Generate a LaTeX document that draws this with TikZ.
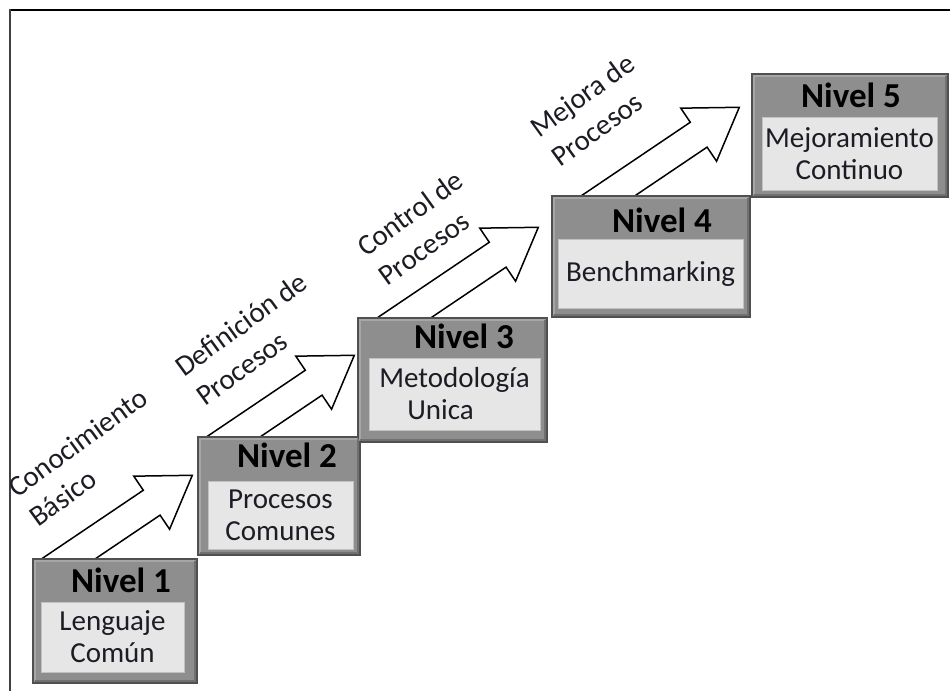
\documentclass[tikz,border=0pt]{standalone}
\usepackage{fontspec}
\setmainfont{Carlito}
\usetikzlibrary{backgrounds}

\definecolor{boxgray}{HTML}{8E8E8E}
\definecolor{boxedge}{HTML}{505050}
\definecolor{bevlight}{HTML}{A6A6A6}
\definecolor{bevdark}{HTML}{707070}
\definecolor{panelfill}{HTML}{E6E6E6}
\definecolor{paneledge}{HTML}{C2C2C2}
\definecolor{txt}{HTML}{1C1C24}

\tikzset{
  levelbox/.style={draw=boxedge, fill=boxgray, line width=1.4pt, inner sep=0pt},
  bevel/.style={line width=2pt},
  panel/.style={fill=panelfill, draw=paneledge, line width=0.8pt, inner sep=0pt,
    align=center, text=txt, font=\fontsize{29}{32}\selectfont},
  head/.style={inner sep=0pt, anchor=base, text=black,
    font=\fontsize{35}{40}\selectfont\bfseries},
  stair/.style={draw=black, fill=white, line width=1.5pt, line join=miter},
  steplabel/.style={inner sep=0pt, rotate=36, anchor=base west, align=left,
    text=txt, font=\fontsize{29}{36}\selectfont},
}

% block arrow with its tip at the local origin, pointing along +x
\newcommand\blockarrow{%
  \draw[stair] (0,0) -- (-49,32) -- (-49,15) -- (-230,15) -- (-230,-15)
    -- (-49,-15) -- (-49,-32) -- cycle;}

% one level box with a bevelled rim
\newcommand\levelrim[1]{%
  \draw[bevel, bevlight] ([shift={(3,3)}]#1.south west) |- ([shift={(-3,-3)}]#1.north east);
  \draw[bevel, bevdark] ([shift={(3,3)}]#1.south west) -| ([shift={(-3,-3)}]#1.north east);}

% arrow rising from the top of box #1 to the side of box #2
\newcommand\rise[3]{%
  \begin{scope}
    \clip ([xshift=-60pt]#1.north west) rectangle ([yshift=60pt]#2.north east);
    \begin{scope}[shift={(#2.north west)}, shift={(#3)}, rotate=34]
      \blockarrow
    \end{scope}
  \end{scope}}

\begin{document}
\begin{tikzpicture}[x=1pt,y=1pt]
\useasboundingbox (0,0) rectangle (950,691);

% frame
\draw[line width=1.8pt, black] (10,681) -- (950,681);
\draw[line width=2.4pt, black!75] (10,682) -- (10,0);

% level boxes
\node[levelbox, minimum width=164pt, minimum height=124pt] (b1) at (115,70) {};
\node[levelbox, minimum width=162pt, minimum height=118pt] (b2) at (279,195) {};
\node[levelbox, minimum width=189pt, minimum height=124pt] (b3) at (452.5,311) {};
\node[levelbox, minimum width=198pt, minimum height=121pt] (b4) at (651,434.5) {};
\node[levelbox, minimum width=196pt, minimum height=123pt] (b5) at (850,555.5) {};

\levelrim{b1}
\levelrim{b2}
\levelrim{b3}
\levelrim{b4}
\levelrim{b5}

% rising arrows, behind the boxes
\begin{scope}[on background layer]
  \rise{b1}{b2}{-5,-39}
  \rise{b2}{b3}{-3,-38}
  \rise{b3}{b4}{-13,-32}
  \rise{b4}{b5}{-12,-34}
\end{scope}

% headers
\node[head] (h1) at (121,99) {Nivel 1};
\node[head] (h2) at (287,223) {Nivel 2};
\node[head] (h3) at (464,342) {Nivel 3};
\node[head] (h4) at (662,458) {Nivel 4};
\node[head] (h5) at (851,583) {Nivel 5};

% inner panels
\node[panel, minimum width=143pt, minimum height=70pt] (p1) at (112.5,54) {Lenguaje\\Común};
\node[panel, minimum width=145pt, minimum height=68pt] (p2) at (280.5,176) {Procesos\\Comunes};
\node[panel, minimum width=171pt, minimum height=72pt, align=left] (p3) at (454.5,297)
  {Metodología\\\hspace*{28pt}Unica};
\node[panel, minimum width=185pt, minimum height=69pt] (p4) at (650.5,417.5) {Benchmarking};
\node[panel, minimum width=175pt, minimum height=73pt] (p5) at (849.5,537.5) {Mejoramiento\\Continuo};

% arrow labels (anchored at the start of their second line)
\node[steplabel] (l1) at (38,163) {Conocimiento\\Básico};
\node[steplabel] (l2) at (205,284) {Definición de\\Procesos};
\node[steplabel] (l3) at (387,404) {Control de\\Procesos};
\node[steplabel] (l4) at (560,523) {Mejora de\\Procesos};
\end{tikzpicture}
\end{document}
